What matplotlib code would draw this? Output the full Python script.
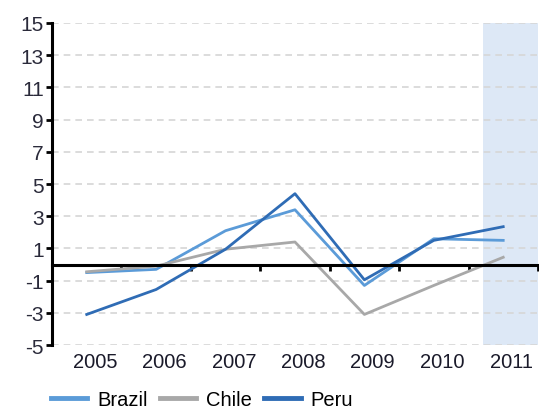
import matplotlib
matplotlib.use("Agg")
import matplotlib.pyplot as plt
import numpy as np

years = ["2005", "2006", "2007", "2008", "2009", "2010", "2011"]
brazil = [-0.5, -0.3, 2.1, 3.4, -1.3, 1.6, 1.5]
chile = [-0.45, -0.1, 0.95, 1.4, -3.1, -1.3, 0.45]
peru = [-3.1, -1.55, 0.95, 4.4, -0.95, 1.5, 2.35]
yticks = [-5, -3, -1, 1, 3, 5, 7, 9, 11, 13, 15]

plt.rcParams['font.family'] = ['Liberation Sans', 'DejaVu Sans']
plt.rcParams['axes.unicode_minus'] = False

fig = plt.figure(figsize=(5.39, 4.10), dpi=100)
ax = fig.add_axes([0.0965, 0.156, 0.9015, 0.7855])

x = np.arange(len(years))
ax.axvspan(5.71, 6.5, color='#DDE8F6', zorder=0, lw=0)
for v in yticks:
    ax.axhline(v, color='#D6D6D6', lw=1.2, ls=(0, (4, 3)), zorder=1)

ax.plot(x, brazil, color='#5B9BD8', lw=2, label='Brazil', zorder=3)
ax.plot(x, chile, color='#A8A8A8', lw=2, label='Chile', zorder=3)
ax.plot(x, peru, color='#2F6CB5', lw=2, label='Peru', zorder=4)

ax.set_xlim(-0.5, 6.5)
ax.set_ylim(-5, 15)
ax.set_yticks(yticks)
ax.tick_params(axis='y', length=4, width=2, direction='out', labelsize=15, pad=2, colors='black')
for t in ax.get_yticklabels():
    t.set_color('#2a2a3a')

for s in ['top', 'right']:
    ax.spines[s].set_visible(False)
ax.spines['left'].set_linewidth(2.2)
ax.spines['bottom'].set_position(('data', 0))
ax.spines['bottom'].set_linewidth(2.2)
ax.spines['bottom'].set_zorder(5)

ax.set_xticks([])
ax.set_xticks(np.arange(0.5, 7, 1), minor=True)
ax.tick_params(axis='x', which='minor', length=4, width=2, direction='out')

sec = ax.secondary_xaxis(0)
sec.set_xticks(x + 0.12, years)
sec.tick_params(length=0, labelsize=14.5, pad=5, labelcolor='#1a1a2a')
sec.spines['bottom'].set_visible(False)

leg = fig.legend(loc='center', bbox_to_anchor=(0.375, 0.022), ncol=3, frameon=False,
                 fontsize=14.5, handlelength=1.8, handletextpad=0.5, columnspacing=0.6,
                 borderpad=0)
for l in leg.get_lines():
    l.set_linewidth(3.5)

fig.savefig('out.png', dpi=100)
